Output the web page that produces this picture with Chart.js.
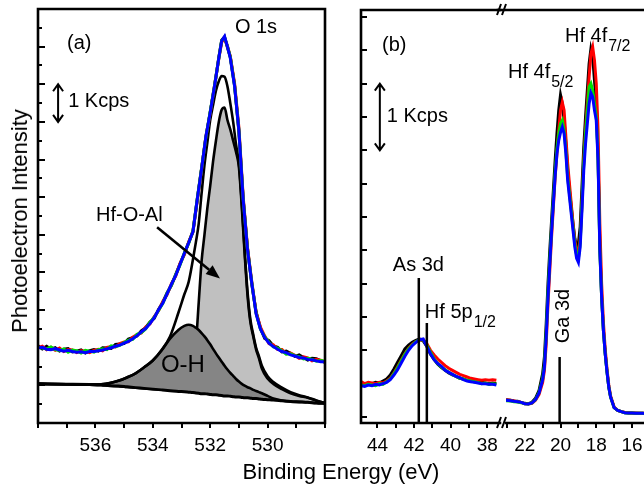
<!DOCTYPE html>
<html>
<head>
<meta charset="utf-8">
<script src="https://cdn.jsdelivr.net/npm/chart.js@4.4.0/dist/chart.umd.min.js"></script>
<style>
  html, body { margin: 0; padding: 0; background: #fff; overflow: hidden; }
  body { width: 644px; height: 485px; position: relative; font-family: "Liberation Sans", Arial, sans-serif; }
  canvas.plot { position: absolute; top: 0; left: 0; }
  .title { position: absolute; font-size: 22px; line-height: 22px; color: #000; white-space: nowrap; }
  #xTitle { left: 341px; top: 461px; transform: translateX(-50%); }
  #yTitle { left: 20px; top: 221px; transform: translate(-50%, -50%) rotate(-90deg); }
</style>
</head>
<body>
<canvas id="chartA" class="plot" width="644" height="485"></canvas>
<canvas id="chartB1" class="plot" width="644" height="485"></canvas>
<canvas id="chartB2" class="plot" width="670" height="485"></canvas>
<div class="title" id="xTitle">Binding Energy (eV)</div>
<div class="title" id="yTitle">Photoelectron Intensity</div>
<script>
// ---- panel (a): O 1s, intensity in Kcps ----
const energyA = [538.0, 537.85, 537.7, 537.55, 537.4, 537.25, 537.1, 536.95, 536.8, 536.65,
  536.5, 536.35, 536.2, 536.05, 535.9, 535.75, 535.6, 535.45, 535.3, 535.15,
  535.0, 534.85, 534.7, 534.55, 534.4, 534.25, 534.1, 533.95, 533.8, 533.65,
  533.5, 533.35, 533.2, 533.05, 532.9, 532.75, 532.6, 532.45, 532.3, 532.15,
  532.0, 531.85, 531.7, 531.6, 531.5, 531.4, 531.3, 531.15, 531.0, 530.85,
  530.7, 530.55, 530.4, 530.25, 530.1, 529.95, 529.8, 529.65, 529.5, 529.35,
  529.2, 529.05, 528.9, 528.75, 528.6, 528.45, 528.3, 528.15, 528.0];
const o1sBlack = [2.05, 1.97, 2.04, 1.96, 2.00, 1.91, 1.96, 1.98, 1.89, 1.91,
  1.94, 1.86, 1.92, 1.95, 1.91, 2.00, 1.99, 1.98, 2.09, 2.10,
  2.11, 2.23, 2.27, 2.31, 2.45, 2.53, 2.68, 2.78, 3.02, 3.21,
  3.46, 3.66, 3.95, 4.23, 4.50, 4.80, 5.07, 5.95, 6.77, 7.57,
  8.26, 8.93, 9.71, 10.17, 10.26, 9.98, 9.73, 8.97, 7.73, 5.93,
  4.64, 3.68, 2.95, 2.52, 2.25, 2.19, 2.05, 2.01, 1.89, 1.91,
  1.85, 1.77, 1.81, 1.74, 1.67, 1.72, 1.71, 1.65, 1.61];
const o1sRed = [2.00, 2.04, 1.95, 2.01, 1.93, 1.99, 1.90, 1.95, 1.94, 1.87,
  1.92, 1.91, 1.87, 1.93, 1.96, 1.92, 2.01, 2.03, 2.02, 2.11,
  2.15, 2.16, 2.28, 2.35, 2.39, 2.55, 2.63, 2.83, 2.98, 3.23,
  3.41, 3.70, 3.91, 4.24, 4.47, 4.80, 5.10, 5.92, 6.74, 7.62,
  8.23, 8.97, 9.68, 10.12, 10.22, 10.02, 9.74, 9.02, 7.85, 6.00,
  4.66, 3.75, 2.93, 2.55, 2.31, 2.11, 2.08, 1.95, 1.95, 1.84,
  1.86, 1.80, 1.72, 1.76, 1.73, 1.65, 1.69, 1.67, 1.62];
const o1sGreen = [2.01, 1.99, 1.97, 2.02, 1.95, 1.93, 1.97, 1.88, 1.94, 1.92,
  1.86, 1.93, 1.91, 1.88, 1.95, 1.97, 1.95, 2.05, 2.03, 2.06,
  2.14, 2.20, 2.22, 2.36, 2.40, 2.50, 2.67, 2.81, 2.99, 3.18,
  3.45, 3.67, 3.94, 4.20, 4.52, 4.77, 5.11, 5.96, 6.76, 7.60,
  8.27, 8.96, 9.69, 10.16, 10.24, 10.01, 9.72, 8.96, 7.78, 5.95,
  4.62, 3.72, 2.91, 2.49, 2.29, 2.14, 2.02, 1.99, 1.92, 1.83,
  1.84, 1.79, 1.76, 1.70, 1.72, 1.69, 1.64, 1.66, 1.64];
const o1sBlue = [1.99, 2.01, 1.96, 1.95, 1.98, 1.94, 1.91, 1.93, 1.90, 1.88,
  1.89, 1.87, 1.90, 1.90, 1.92, 1.94, 1.97, 2.00, 2.04, 2.07,
  2.12, 2.17, 2.24, 2.32, 2.42, 2.51, 2.64, 2.80, 3.01, 3.19,
  3.44, 3.69, 3.92, 4.22, 4.51, 4.79, 5.09, 5.95, 6.75, 7.61,
  8.25, 8.95, 9.70, 10.15, 10.27, 10.00, 9.70, 8.95, 7.77, 5.92,
  4.60, 3.71, 2.90, 2.50, 2.27, 2.12, 2.03, 1.96, 1.90, 1.87,
  1.81, 1.78, 1.74, 1.73, 1.69, 1.68, 1.65, 1.63, 1.63];

// fitted components (shared energy grid)
const fitEnergy = [538, 537, 536.2, 535.8, 535.5, 535.2, 534.9, 534.6, 534.3, 534.0,
  533.7, 533.4, 533.1, 532.9, 532.75, 532.6, 532.5, 532.4, 532.3, 532.2,
  532.1, 532.0, 531.9, 531.8, 531.7, 531.6, 531.5, 531.4, 531.3, 531.2,
  531.1, 531.0, 530.9, 530.8, 530.7, 530.6, 530.5, 530.4, 530.3, 530.2,
  530.0, 529.8, 529.5, 529.2, 528.9, 528.6, 528.3, 528.0];
const fitBackground = [1.04, 1.03, 1.02, 1.01, 0.99, 0.98, 0.96, 0.94, 0.92, 0.90,
  0.88, 0.86, 0.84, 0.83, 0.82, 0.81, 0.80, 0.79, 0.78, 0.78,
  0.77, 0.76, 0.75, 0.75, 0.74, 0.73, 0.72, 0.72, 0.71, 0.70,
  0.69, 0.69, 0.68, 0.67, 0.67, 0.66, 0.65, 0.65, 0.64, 0.63,
  0.62, 0.61, 0.59, 0.57, 0.56, 0.55, 0.53, 0.52];
const fitOH = [1.04, 1.03, 1.02, 1.03, 1.06, 1.12, 1.21, 1.32, 1.48, 1.66,
  1.92, 2.24, 2.48, 2.58, 2.61, 2.58, 2.53, 2.47, 2.39, 2.30,
  2.20, 2.09, 1.97, 1.85, 1.74, 1.63, 1.52, 1.42, 1.33, 1.25,
  1.17, 1.10, 1.04, 0.99, 0.95, 0.92, 0.88, 0.85, 0.82, 0.79,
  0.72, 0.65, 0.60, 0.57, 0.56, 0.55, 0.53, 0.52];
const fitHfOAl = [1.04, 1.03, 1.02, 1.01, 0.99, 0.98, 0.96, 0.94, 0.92, 0.90,
  0.89, 0.90, 0.97, 1.10, 1.30, 1.65, 2.10, 3.20, 4.30, 5.00,
  5.70, 6.30, 6.95, 7.50, 8.00, 8.32, 8.38, 8.05, 7.80, 7.50,
  7.20, 6.80, 5.75, 4.50, 3.40, 2.68, 2.30, 1.95, 1.72, 1.45,
  1.18, 1.04, 0.90, 0.79, 0.72, 0.67, 0.59, 0.53];
const fitSum = [1.04, 1.03, 1.02, 1.03, 1.06, 1.12, 1.21, 1.32, 1.48, 1.66,
  1.93, 2.30, 2.95, 3.42, 3.75, 4.35, 4.80, 5.30, 6.10, 6.85,
  7.45, 8.05, 8.45, 8.83, 9.08, 9.22, 9.20, 8.95, 8.50, 8.00,
  7.40, 6.90, 5.85, 4.60, 3.50, 2.75, 2.35, 2.00, 1.77, 1.52,
  1.24, 1.09, 0.94, 0.82, 0.74, 0.68, 0.60, 0.53];

// ---- panel (b), left segment: As 3d / Hf 5p ----
const energyB1 = [44.9, 44.7, 44.5, 44.3, 44.1, 43.9, 43.7, 43.5, 43.3, 43.1,
  42.9, 42.7, 42.5, 42.3, 42.1, 41.9, 41.7, 41.5, 41.3, 41.1,
  40.9, 40.7, 40.5, 40.3, 40.1, 39.9, 39.7, 39.5, 39.3, 39.1,
  38.9, 38.7, 38.5, 38.3, 38.1, 37.9, 37.7, 37.5];
const as3dBlack = [0.50, 0.49, 0.51, 0.50, 0.52, 0.51, 0.54, 0.57, 0.63, 0.72,
  0.82, 0.92, 1.02, 1.08, 1.12, 1.15, 1.17, 1.14, 1.06, 0.94,
  0.86, 0.79, 0.74, 0.70, 0.66, 0.63, 0.61, 0.58, 0.57, 0.55,
  0.54, 0.53, 0.52, 0.52, 0.51, 0.50, 0.51, 0.50];
const as3dRed = [0.53, 0.50, 0.52, 0.51, 0.50, 0.52, 0.51, 0.54, 0.58, 0.66,
  0.75, 0.85, 0.95, 1.03, 1.09, 1.13, 1.15, 1.16, 1.10, 1.00,
  0.93, 0.87, 0.82, 0.77, 0.73, 0.70, 0.67, 0.64, 0.62, 0.60,
  0.58, 0.57, 0.56, 0.55, 0.56, 0.55, 0.56, 0.55];
const as3dGreen = [0.48, 0.47, 0.49, 0.48, 0.47, 0.50, 0.49, 0.53, 0.57, 0.65,
  0.74, 0.84, 0.94, 1.02, 1.08, 1.13, 1.16, 1.16, 1.08, 0.97,
  0.87, 0.80, 0.75, 0.71, 0.67, 0.64, 0.61, 0.58, 0.57, 0.55,
  0.54, 0.53, 0.52, 0.50, 0.51, 0.49, 0.50, 0.49];
const as3dBlue = [0.47, 0.46, 0.48, 0.47, 0.49, 0.48, 0.50, 0.52, 0.56, 0.63,
  0.71, 0.81, 0.91, 1.00, 1.07, 1.12, 1.16, 1.17, 1.06, 0.95,
  0.86, 0.80, 0.76, 0.70, 0.67, 0.64, 0.61, 0.59, 0.56, 0.54,
  0.53, 0.52, 0.51, 0.50, 0.50, 0.49, 0.49, 0.48];
const markerEnergyB1 = [41.74, 41.30];   // As 3d, Hf 5p1/2
const markerTopB1 = [2.085, 1.41];

// ---- panel (b), right segment: Hf 4f / Ga 3d ----
const energyB2 = [23.05, 22.8, 22.6, 22.4, 22.2, 22.0, 21.8, 21.6, 21.4, 21.2,
  21.0, 20.9, 20.8, 20.7, 20.6, 20.5, 20.4, 20.3, 20.2, 20.1,
  20.0, 19.9, 19.8, 19.7, 19.6, 19.5, 19.4, 19.3, 19.2, 19.1,
  19.0, 18.9, 18.8, 18.7, 18.6, 18.5, 18.4, 18.3, 18.2, 18.1,
  18.0, 17.9, 17.8, 17.7, 17.6, 17.5, 17.4, 17.3, 17.2, 17.0,
  16.8, 16.6, 16.4, 16.2, 16.0, 15.8, 15.6, 15.4, 15.2, 15.0, 14.8];
const hf4fBlack = [0.26, 0.25, 0.24, 0.235, 0.22, 0.205, 0.2, 0.22, 0.28, 0.4,
  0.65, 0.9, 1.4, 2.0, 2.5, 2.95, 3.4, 3.85, 4.25, 4.6,
  4.83, 4.7, 4.45, 4.1, 3.7, 3.4, 3.15, 2.9, 2.68, 2.56,
  2.6, 2.85, 3.45, 4.05, 4.5, 4.9, 5.3, 5.52, 5.4, 5.05,
  4.7, 3.9, 2.55, 1.8, 1.3, 0.95, 0.68, 0.45, 0.3, 0.14,
  0.1, 0.08, 0.065, 0.06, 0.06, 0.055, 0.055, 0.055, 0.05, 0.05, 0.05];
const hf4fRed = [0.255, 0.25, 0.24, 0.23, 0.22, 0.2, 0.195, 0.205, 0.25, 0.34,
  0.52, 0.7, 1.1, 1.7, 2.2, 2.7, 3.15, 3.6, 3.95, 4.3,
  4.6, 4.72, 4.6, 4.2, 3.8, 3.5, 3.2, 2.9, 2.65, 2.5,
  2.47, 2.65, 3.2, 3.85, 4.3, 4.7, 5.1, 5.45, 5.55, 5.35,
  5.0, 4.3, 2.9, 2.0, 1.42, 1.02, 0.72, 0.48, 0.32, 0.15,
  0.1, 0.08, 0.07, 0.065, 0.06, 0.06, 0.055, 0.055, 0.055, 0.05, 0.05];
const hf4fGreen = [0.245, 0.24, 0.23, 0.225, 0.215, 0.2, 0.195, 0.21, 0.26, 0.37,
  0.58, 0.78, 1.25, 1.85, 2.35, 2.82, 3.25, 3.68, 4.02, 4.25,
  4.4, 4.45, 4.3, 4.0, 3.6, 3.35, 3.1, 2.85, 2.6, 2.43,
  2.38, 2.6, 3.2, 3.8, 4.25, 4.6, 4.95, 5.0, 4.9, 4.7,
  4.5, 3.9, 2.5, 1.8, 1.3, 0.95, 0.68, 0.45, 0.3, 0.14,
  0.1, 0.08, 0.065, 0.06, 0.06, 0.055, 0.055, 0.055, 0.05, 0.05, 0.05];
const hf4fBlue = [0.25, 0.245, 0.235, 0.23, 0.22, 0.2, 0.195, 0.21, 0.26, 0.36,
  0.56, 0.75, 1.2, 1.8, 2.3, 2.78, 3.2, 3.62, 3.95, 4.15,
  4.27, 4.35, 4.25, 3.95, 3.55, 3.3, 3.05, 2.8, 2.55, 2.38,
  2.32, 2.55, 3.1, 3.7, 4.1, 4.4, 4.7, 4.86, 4.8, 4.6,
  4.45, 3.85, 2.5, 1.8, 1.3, 0.95, 0.68, 0.45, 0.3, 0.14,
  0.1, 0.08, 0.065, 0.06, 0.06, 0.055, 0.055, 0.055, 0.05, 0.05, 0.05];
const markerEnergyB2 = [20.05];   // Ga 3d
const markerTopB2 = [0.9];

const tickLabelsA = [536, 534, 532, 530];
const tickLabelsB1 = [44, 42, 40, 38];
const tickLabelsB2 = [22, 20, 18, 16];

const FONT = "'Liberation Sans', Arial, sans-serif";
Chart.defaults.font.family = FONT;
Chart.defaults.color = "#000";

const COLORS = { black: "#000000", red: "#ff0000", green: "#00dd00", blue: "#0000ff" };

function pts(xs, ys) {
  return xs.map((x, i) => ({ x, y: ys[i] }));
}

function spectrum(xs, ys, color, order) {
  return { data: pts(xs, ys), borderColor: color, borderWidth: 3, pointRadius: 0,
    tension: 0, fill: false, order };
}

function fitLine(ys, order, extra) {
  return Object.assign({ data: pts(fitEnergy, ys), borderColor: "#000", borderWidth: 2.6,
    pointRadius: 0, cubicInterpolationMode: "monotone", fill: false, order }, extra);
}

function markers(xs, tops, bottom) {
  return xs.map((x, i) => ({ data: [{ x, y: bottom }, { x, y: tops[i] }],
    borderColor: "#000", borderWidth: 2.5, pointRadius: 0, fill: false, order: -1 }));
}

function xScale(min, max, labels, height) {
  return {
    type: "linear", position: "bottom", reverse: true, min, max,
    afterFit: (s) => { s.height = height; },
    ticks: { stepSize: 1, includeBounds: false, autoSkip: false, maxRotation: 0, padding: 6,
      font: { size: 19 }, color: "#000",
      callback: (v) => (labels.includes(v) ? String(v) : "") },
    grid: { drawOnChartArea: false, tickLength: 5, color: "#000", lineWidth: 2 },
    border: { display: false },
  };
}

function yScale(min, max, step, width, tickLength, weight) {
  return {
    type: "linear", position: "left", min, max, weight,
    afterFit: (s) => { s.width = width; },
    ticks: { display: false, stepSize: step, includeBounds: false },
    grid: { display: tickLength !== 0, drawOnChartArea: false, tickLength, color: "#000", lineWidth: 2 },
    border: { display: false },
  };
}

// plot frame and axis break marks
const framePlugin = {
  id: "frame",
  afterDatasetsDraw(chart, args, opts) {
    const { ctx, chartArea: a } = chart;
    const sides = opts.sides || [];
    ctx.save();
    ctx.strokeStyle = "#000";
    ctx.lineWidth = 2.6;
    ctx.lineCap = "square";
    ctx.beginPath();
    if (sides.includes("top")) { ctx.moveTo(a.left - (opts.extendTop || 0), a.top); ctx.lineTo(a.right, a.top); }
    if (sides.includes("bottom")) { ctx.moveTo(a.left, a.bottom); ctx.lineTo(a.right, a.bottom); }
    if (sides.includes("left")) { ctx.moveTo(a.left, a.top); ctx.lineTo(a.left, a.bottom); }
    if (sides.includes("right")) { ctx.moveTo(a.right, a.top); ctx.lineTo(a.right, a.bottom); }
    ctx.stroke();
    if (opts.breakMarks) {
      ctx.lineWidth = 2;
      ctx.lineCap = "butt";
      ctx.beginPath();
      [a.top, a.bottom].forEach((y) => {
        [-9, -4].forEach((dx) => {
          ctx.moveTo(a.left + dx, y + 5);
          ctx.lineTo(a.left + dx + 4, y - 6);
        });
      });
      ctx.stroke();
    }
    ctx.restore();
  },
};

// labels, scale bars and pointer arrows placed in data coordinates
const notesPlugin = {
  id: "notes",
  afterDatasetsDraw(chart, args, opts) {
    const { ctx } = chart;
    const px = (v) => chart.scales.x.getPixelForValue(v);
    const py = (v) => chart.scales.y.getPixelForValue(v);
    ctx.save();
    ctx.fillStyle = "#000";
    ctx.strokeStyle = "#000";
    (opts.texts || []).forEach((t) => {
      ctx.save();
      ctx.translate(px(t.x), py(t.y));
      if (t.rotate) ctx.rotate(-Math.PI / 2);
      ctx.font = `${t.size || 20}px ${FONT}`;
      ctx.textAlign = t.align || "left";
      ctx.textBaseline = "middle";
      ctx.fillText(t.text, 0, 0);
      if (t.sub) {
        const w = ctx.measureText(t.text).width;
        ctx.font = `16px ${FONT}`;
        ctx.textAlign = "left";
        ctx.fillText(t.sub, w + 1, 11);
      }
      ctx.restore();
    });
    (opts.scaleBars || []).forEach((b) => {
      const x = px(b.x), y1 = py(b.from), y2 = py(b.to);
      ctx.lineWidth = 2;
      ctx.beginPath();
      ctx.moveTo(x, y1); ctx.lineTo(x, y2);
      ctx.moveTo(x - 5, y2 + 7); ctx.lineTo(x, y2); ctx.lineTo(x + 5, y2 + 7);
      ctx.moveTo(x - 5, y1 - 7); ctx.lineTo(x, y1); ctx.lineTo(x + 5, y1 - 7);
      ctx.stroke();
    });
    (opts.pointers || []).forEach((p) => {
      const x1 = px(p.from[0]), y1 = py(p.from[1]);
      const x2 = px(p.to[0]), y2 = py(p.to[1]);
      const ang = Math.atan2(y2 - y1, x2 - x1);
      const len = 14, half = 5.5;
      const bx = x2 - len * Math.cos(ang), by = y2 - len * Math.sin(ang);
      ctx.lineWidth = 2.6;
      ctx.beginPath();
      ctx.moveTo(x1, y1); ctx.lineTo(bx, by);
      ctx.stroke();
      ctx.beginPath();
      ctx.moveTo(x2, y2);
      ctx.lineTo(bx + half * Math.sin(ang), by - half * Math.cos(ang));
      ctx.lineTo(bx - half * Math.sin(ang), by + half * Math.cos(ang));
      ctx.closePath();
      ctx.fill();
    });
    ctx.restore();
  },
};

const common = {
  responsive: false,
  animation: false,
  events: [],
  plugins: { legend: { display: false }, tooltip: { enabled: false } },
};

// panel (a)
new Chart(document.getElementById("chartA"), {
  type: "line",
  data: {
    datasets: [
      spectrum(energyA, o1sBlue, COLORS.blue, 0),
      spectrum(energyA, o1sGreen, COLORS.green, 1),
      spectrum(energyA, o1sRed, COLORS.red, 2),
      spectrum(energyA, o1sBlack, COLORS.black, 3),
      fitLine(fitBackground, 4, { borderWidth: 3 }),
      fitLine(fitSum, 5),
      fitLine(fitOH, 6, { fill: 4, backgroundColor: "#858585" }),
      fitLine(fitHfOAl, 7, { fill: 4, backgroundColor: "#c0c0c0" }),
    ],
  },
  options: {
    ...common,
    layout: { padding: { left: 0, top: 9, right: 644 - 325, bottom: 0 } },
    scales: {
      x: xScale(528, 538, tickLabelsA, 62),
      yMinor: yScale(0, 11, 0.5, 0, -4, 0),
      y: yScale(0, 11, 1, 38, -7, 1),
    },
    plugins: {
      ...common.plugins,
      frame: { sides: ["left", "top", "right", "bottom"] },
      notes: {
        texts: [
          { text: "(a)", x: 536.99, y: 10.08 },
          { text: "O 1s", x: 531.14, y: 10.51 },
          { text: "1 Kcps", x: 536.95, y: 8.53 },
          { text: "Hf-O-Al", x: 535.98, y: 5.52 },
          { text: "O-H", x: 532.95, y: 1.52, size: 24, align: "center" },
        ],
        scaleBars: [{ x: 537.3, from: 8.0, to: 9.0 }],
        pointers: [{ from: [533.85, 5.2], to: [531.66, 3.84] }],
      },
    },
  },
  plugins: [framePlugin, notesPlugin],
});

// panel (b), left segment
new Chart(document.getElementById("chartB1"), {
  type: "line",
  data: {
    datasets: [
      ...markers(markerEnergyB1, markerTopB1, -0.09),
      spectrum(energyB1, as3dBlue, COLORS.blue, 0),
      spectrum(energyB1, as3dGreen, COLORS.green, 1),
      spectrum(energyB1, as3dRed, COLORS.red, 2),
      spectrum(energyB1, as3dBlack, COLORS.black, 3),
    ],
  },
  options: {
    ...common,
    layout: { padding: { left: 0, top: 10, right: 644 - 500, bottom: 0 } },
    scales: {
      x: xScale(37.3, 44.9, tickLabelsB1, 62),
      y: yScale(-0.09, 6.105, 0.5, 361, -6, 1),
    },
    plugins: {
      ...common.plugins,
      frame: { sides: ["left", "top", "bottom"] },
      notes: {
        texts: [
          { text: "(b)", x: 43.75, y: 5.58 },
          { text: "1 Kcps", x: 43.49, y: 4.51 },
          { text: "As 3d", x: 43.16, y: 2.28 },
          { text: "Hf 5p", sub: "1/2", x: 41.41, y: 1.575 },
        ],
        scaleBars: [{ x: 43.87, from: 4.0, to: 5.0 }],
      },
    },
  },
  plugins: [framePlugin, notesPlugin],
});

// panel (b), right segment
new Chart(document.getElementById("chartB2"), {
  type: "line",
  data: {
    datasets: [
      ...markers(markerEnergyB2, markerTopB2, -0.09),
      spectrum(energyB2, hf4fBlue, COLORS.blue, 0),
      spectrum(energyB2, hf4fGreen, COLORS.green, 1),
      spectrum(energyB2, hf4fRed, COLORS.red, 2),
      spectrum(energyB2, hf4fBlack, COLORS.black, 3),
    ],
  },
  options: {
    ...common,
    layout: { padding: { left: 0, top: 10, right: 670 - 654, bottom: 0 } },
    scales: {
      x: xScale(14.77, 23.05, tickLabelsB2, 62),
      y: yScale(-0.09, 6.105, 0.5, 506, 0, 1),
    },
    plugins: {
      ...common.plugins,
      frame: { sides: ["top", "bottom"], extendTop: 8, breakMarks: true },
      notes: {
        texts: [
          { text: "Hf 4f", sub: "5/2", x: 22.94, y: 5.175 },
          { text: "Hf 4f", sub: "7/2", x: 19.75, y: 5.715 },
          { text: "Ga 3d", x: 19.86, y: 1.515, rotate: true, align: "center" },
        ],
      },
    },
  },
  plugins: [framePlugin, notesPlugin],
});
</script>
</body>
</html>
